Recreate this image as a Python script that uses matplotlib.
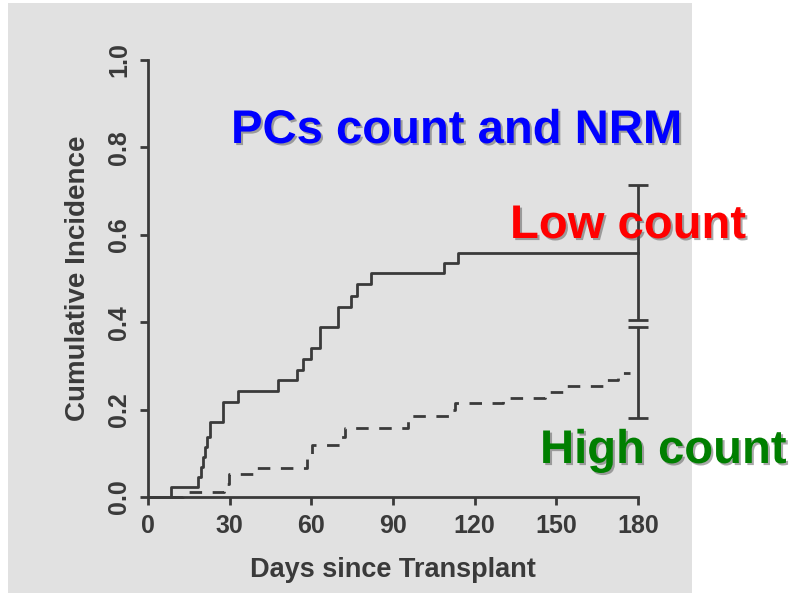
import numpy as np
import matplotlib
matplotlib.use("Agg")
import matplotlib.pyplot as plt
import matplotlib.patheffects as pe
from matplotlib.patches import Rectangle

plt.rcParams['font.family'] = ['Liberation Sans', 'DejaVu Sans']

# Cumulative incidence of NRM, read per group
low_days = [0, 8.3, 18.2, 19.3, 20.2, 21.0, 21.8, 22.6, 27.7, 33.2, 47.9, 54.7,
            57.0, 60.0, 63.0, 69.9, 74.7, 76.9, 82.1, 108.9, 114.0, 180]
low_ci = [0, 0.022, 0.045, 0.068, 0.091, 0.114, 0.137, 0.172, 0.217, 0.243, 0.268, 0.29,
          0.315, 0.341, 0.389, 0.435, 0.46, 0.487, 0.512, 0.536, 0.559, 0.559]

high_days = [0, 13, 28, 29.8, 39, 58.4, 60.4, 70.8, 72.2, 95.6, 111.5, 112.8,
             130.5, 145.8, 152.5, 167, 172.7, 177]
high_ci = [0, 0.012, 0.03, 0.053, 0.066, 0.092, 0.119, 0.138, 0.157, 0.186, 0.2, 0.214,
           0.227, 0.241, 0.255, 0.268, 0.283, 0.283]

# confidence limits at day 180
low_ci_180 = (0.405, 0.714)
high_ci_180 = (0.18, 0.389)

xticks = [0, 30, 60, 90, 120, 150, 180]
yticks = [0.0, 0.2, 0.4, 0.6, 0.8, 1.0]

ink = '#3a3a3a'
W, H = 792, 593

fig = plt.figure(figsize=(W / 100, H / 100), dpi=100)
fig.patch.set_facecolor('white')
fig.patches.append(Rectangle((8 / W, 0), 684 / W, 590 / H, transform=fig.transFigure,
                             facecolor='#e1e1e1', edgecolor='none', zorder=-10))

ax = fig.add_axes([148 / W, (H - 497) / H, 490 / W, 437 / H])
ax.set_facecolor('none')
ax.set_xlim(0, 180)
ax.set_ylim(0, 1)

ax.step(low_days, low_ci, where='post', color=ink, lw=2.0, clip_on=False, zorder=3)
ax.step(high_days, high_ci, where='post', color=ink, lw=2.0,
        linestyle=(0, (4.5, 3.8)), clip_on=False, zorder=3)

for c, (lo, hi) in [(low_ci[-1], low_ci_180), (high_ci[-1], high_ci_180)]:
    ax.errorbar(180, c, yerr=[[c - lo], [hi - c]], fmt='none', ecolor=ink,
                elinewidth=2.0, capsize=7.2, capthick=2.0, clip_on=False, zorder=3)

for s in ['top', 'right']:
    ax.spines[s].set_visible(False)
for s in ['left', 'bottom']:
    ax.spines[s].set_color(ink)
    ax.spines[s].set_linewidth(2.0)

ax.set_xticks(xticks)
ax.set_xticklabels([str(t) for t in xticks])
ax.set_yticks(yticks)
ax.set_yticklabels([f'{t:.1f}' for t in yticks], rotation=90, va='center')
ax.tick_params(direction='out', length=6, width=2.0, color=ink, labelcolor=ink,
               labelsize=18)
ax.tick_params(axis='x', pad=6)
ax.tick_params(axis='y', pad=6)
for lab in ax.get_xticklabels() + ax.get_yticklabels():
    lab.set_fontweight('bold')

ax.set_xlabel('Days since Transplant', fontsize=19.5, fontweight='bold', color=ink,
              labelpad=14)
ax.set_ylabel('Cumulative Incidence', fontsize=20, fontweight='bold', color=ink,
              labelpad=12)

shadow = [pe.SimplePatchShadow(offset=(1.5, -1.5), shadow_rgbFace='#555555', alpha=0.5),
          pe.Normal()]
fig.text(231 / W, 1 - 143 / H, 'PCs count and NRM', fontsize=34, fontweight='bold',
         color='#0000ff', path_effects=shadow)
fig.text(510 / W, 1 - 238 / H, 'Low count', fontsize=34, fontweight='bold',
         color='#ff0000', path_effects=shadow)
fig.text(540 / W, 1 - 463 / H, 'High count', fontsize=34, fontweight='bold',
         color='#007f00', path_effects=shadow)

fig.savefig('out.png', dpi=100)
